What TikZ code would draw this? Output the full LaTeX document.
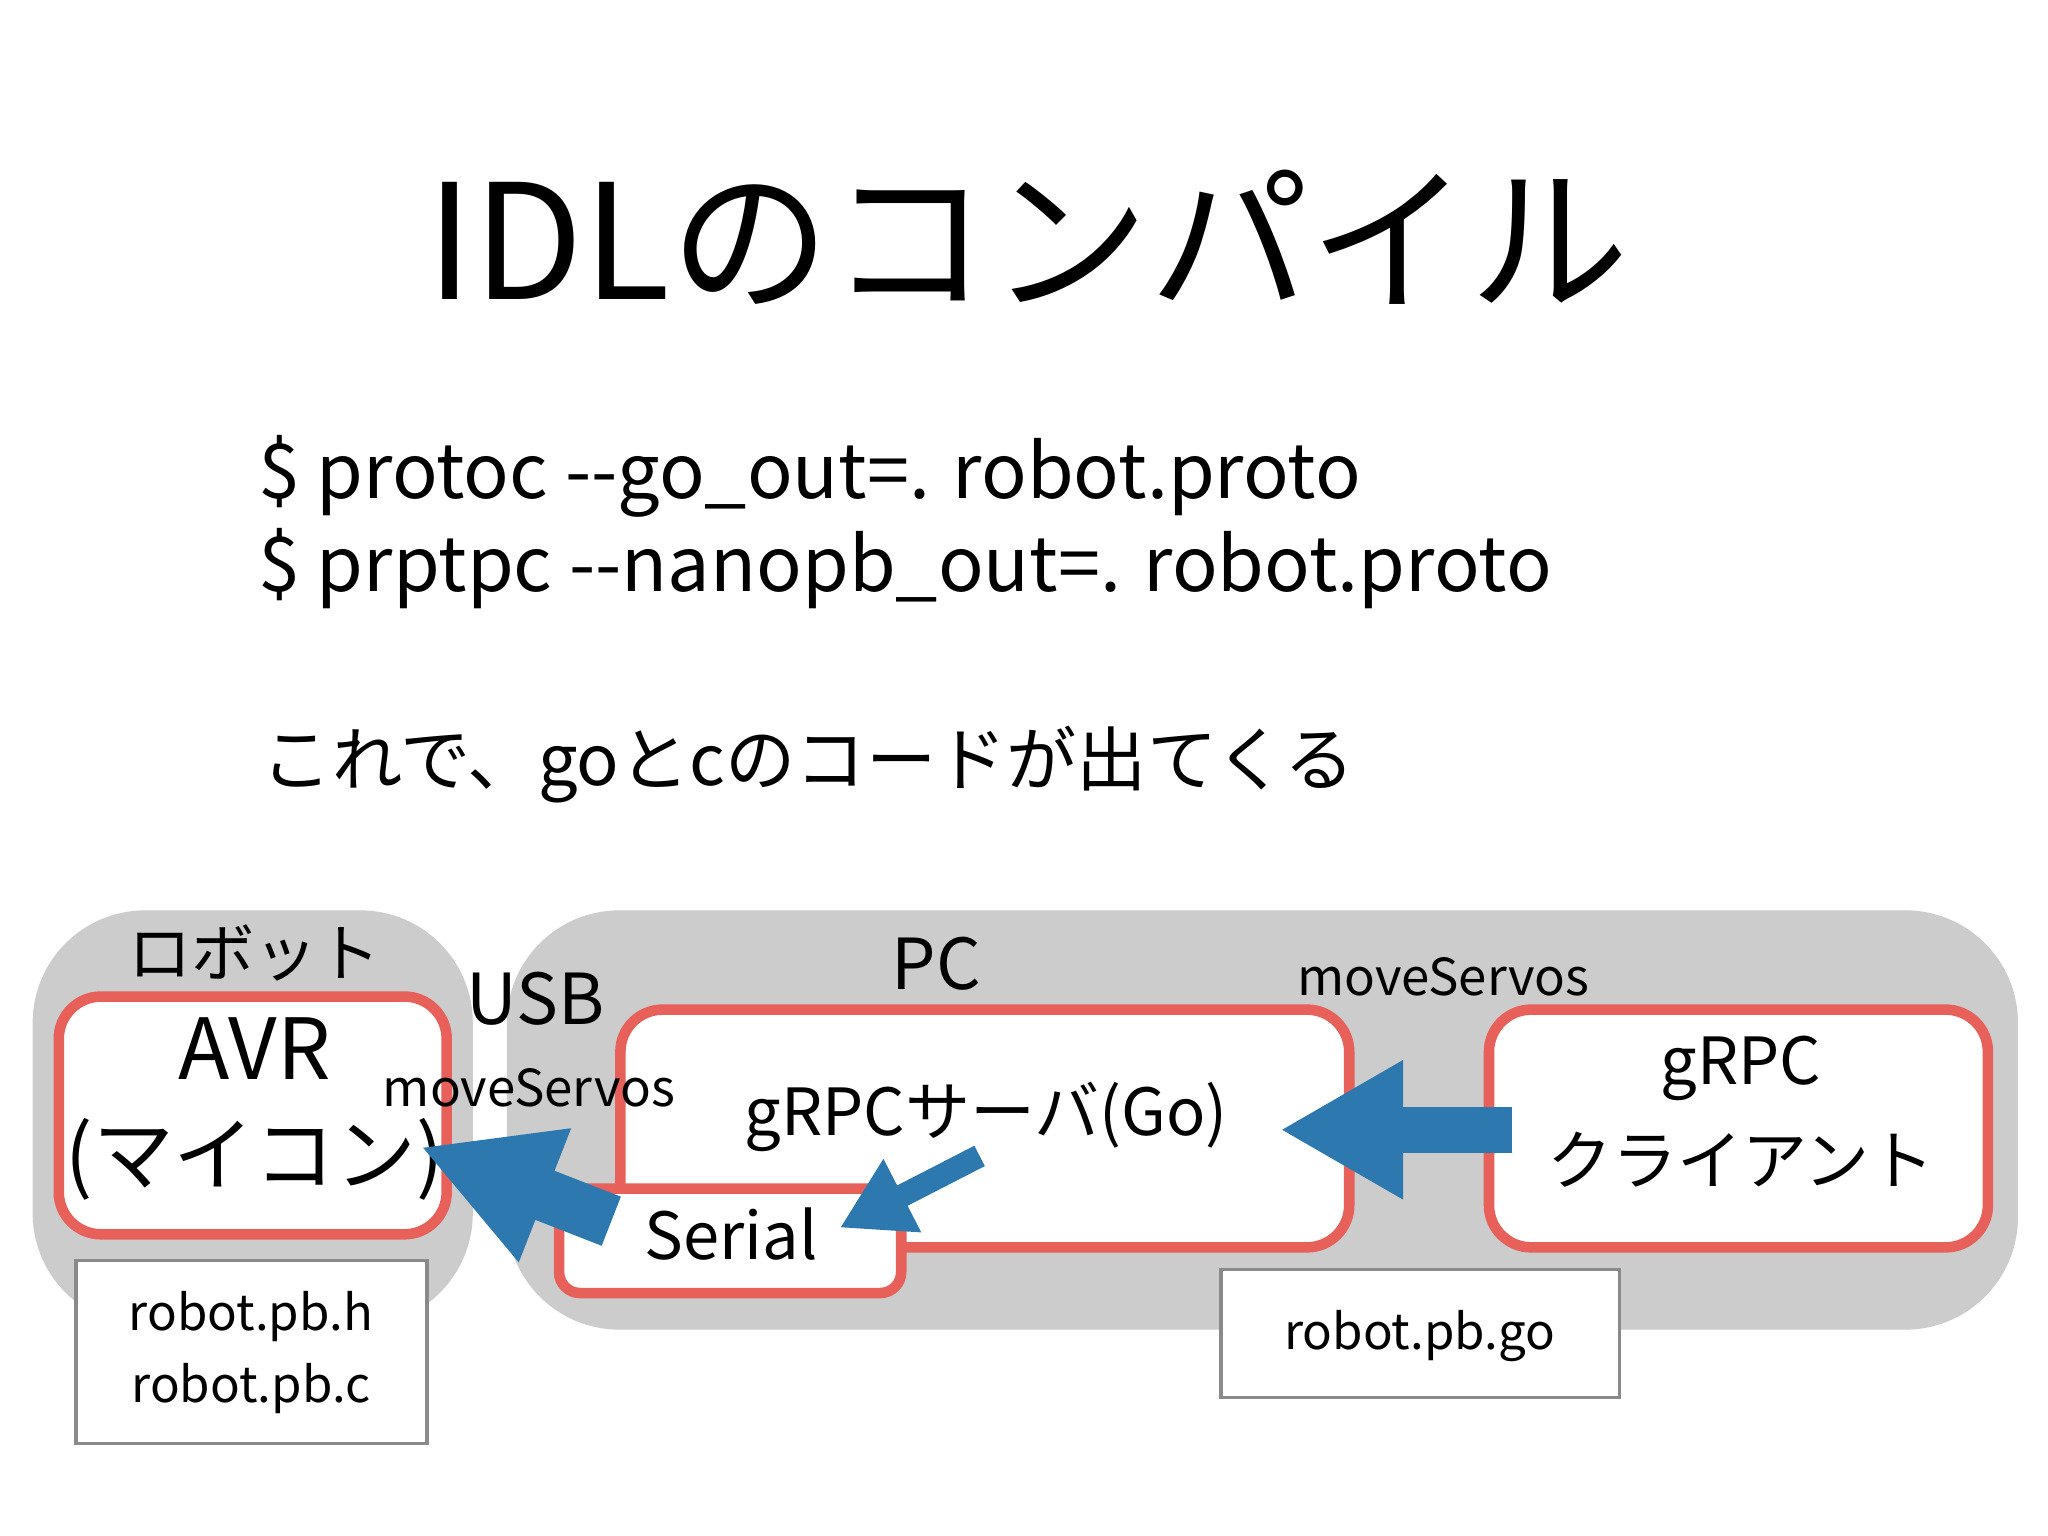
\documentclass[tikz,border=0pt]{standalone}
\usepackage{fontspec}
\setmainfont{Noto Sans CJK JP}
\usetikzlibrary{arrows.meta}
\definecolor{gbox}{HTML}{CCCCCC}
\definecolor{redl}{HTML}{E8605A}
\definecolor{bluea}{HTML}{2E78B0}
\definecolor{greyl}{HTML}{8A8A8A}
\tikzset{
 group/.style={fill=gbox,rounded corners=32},
 redbox/.style={draw=redl,line width=3pt,fill=white,rounded corners=12},
 filebox/.style={draw=greyl,line width=1pt,fill=white},
 txt/.style={inner sep=0pt,anchor=center}
}
\begin{document}
\begin{tikzpicture}[x=0.01306cm,y=-0.01306cm]
\useasboundingbox (0,0) rectangle (1568,1176);
\fill[white] (0,0) rectangle (1568,1176);
\node[txt] (title) at (787,182) {\fontsize{45.5}{54}\selectfont IDLのコンパイル};
\node[txt,anchor=west] (c1) at (197,365) {\fontsize{21.5}{25}\selectfont \$ protoc -{}-go\_out=. robot.proto};
\node[txt,anchor=west] (c2) at (197,435) {\fontsize{21.5}{25}\selectfont \$ prptpc -{}-nanopb\_out=. robot.proto};
\node[txt,anchor=west] (c3) at (200,585) {\fontsize{20}{24}\selectfont これで、goとcのコードが出てくる};
% groups
\fill[group] (25,697) rectangle (362,1015);
\fill[group] (388,697) rectangle (1545,1018);
\node[txt] (lrobot) at (195,730) {\fontsize{18}{22}\selectfont ロボット};
\node[txt] (lpc) at (717,738) {\fontsize{20}{24}\selectfont PC};
\node[txt] (lusb) at (410,765) {\fontsize{20}{24}\selectfont USB};
\node[txt] (ms1) at (1105,748) {\fontsize{14.5}{17}\selectfont moveServos};
% boxes
\draw[redbox] (45,763) rectangle (342,945);
\node[txt] (avr) at (195,803) {\fontsize{24}{30}\selectfont AVR};
\node[txt] (mic) at (195,888) {\fontsize{23}{28}\selectfont (マイコン)};
\draw[redbox] (475,773) rectangle (1033,955);
\node[txt] (srv) at (755,855) {\fontsize{18.5}{22}\selectfont gRPCサーバ(Go)};
\draw[redbox,rounded corners=6] (428,910) rectangle (690,990);
\node[txt] (ser) at (560,945) {\fontsize{18.5}{22}\selectfont Serial};
\draw[redbox] (1140,773) rectangle (1522,955);
\node[txt] (g1) at (1333,818) {\fontsize{18.5}{22}\selectfont gRPC};
\node[txt] (g2) at (1333,888) {\fontsize{18.5}{22}\selectfont クライアント};
\node[txt] (ms2) at (405,833) {\fontsize{14.5}{17}\selectfont moveServos};
\draw[filebox] (58,965) rectangle (327,1105);
\node[txt] (f1) at (192,1008) {\fontsize{14}{17}\selectfont robot.pb.h};
\node[txt] (f2) at (192,1063) {\fontsize{14}{17}\selectfont robot.pb.c};
\draw[filebox] (935,972) rectangle (1240,1070);
\node[txt] (f3) at (1087,1023) {\fontsize{14}{17}\selectfont robot.pb.go};
% arrows
\coordinate (a1s) at (1158,865); \coordinate (a1e) at (980,865);
\coordinate (a2s) at (468,935); \coordinate (a2e) at (322,878);
\coordinate (a3s) at (750,885); \coordinate (a3e) at (643,940);
\draw[bluea,line width=13pt,-{Triangle[length=35pt,width=37pt]}] (a1s) -- (a1e);
\draw[bluea,line width=15pt,-{Triangle[length=38pt,width=38pt]}] (a2s) -- (a2e);
\draw[bluea,line width=6.5pt,-{Triangle[length=20pt,width=22pt]}] (a3s) -- (a3e);
\end{tikzpicture}
\end{document}
